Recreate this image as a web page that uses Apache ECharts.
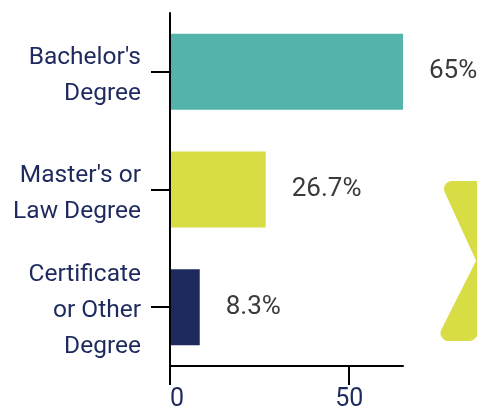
<!DOCTYPE html>
<html>
<head>
<meta charset="utf-8">
<style>
html, body { margin: 0; padding: 0; background: #fff; }
#chart { width: 477px; height: 410px; }
</style>
<script src="https://cdn.jsdelivr.net/npm/echarts@6/dist/echarts.min.js"></script>
</head>
<body>
<div id="chart"></div>
<script>
const categories = ["Bachelor's\nDegree", "Master's or\nLaw Degree", "Certificate\nor Other\nDegree"]
const values = [65, 26.7, 8.3]
const barColors = ['#54B3AB', '#D8DC45', '#1E2A5E']
const valueTicks = [0, 50]

const myChart = echarts.init(document.getElementById('chart'))
const option = {
    animation: false,
    backgroundColor: '#FFFFFF',
    grid: { left: 170, right: 74, top: 13, bottom: 44, outerBoundsMode: 'none' },
    xAxis: {
        type: 'value',
        min: 0,
        max: 65,
        interval: 50,
        z: 5,
        splitLine: { show: false },
        axisLine: { show: true, lineStyle: { color: '#000', width: 2 } },
        axisTick: { show: true, length: 19, lineStyle: { color: '#000', width: 2 } },
        axisLabel: {
            color: '#1E2A5E',
            fontFamily: 'Roboto',
            fontSize: 25,
            margin: 21,
            showMaxLabel: false,
            alignMinLabel: 'left',
            formatter: v => valueTicks.includes(v) ? String(v) : ''
        }
    },
    yAxis: {
        type: 'category',
        inverse: true,
        data: categories,
        z: 5,
        axisLine: { show: true, lineStyle: { color: '#000', width: 2 } },
        axisTick: { show: true, alignWithLabel: true, length: 19, lineStyle: { color: '#000', width: 2 } },
        axisLabel: {
            margin: 29,
            align: 'right',
            // small empty first line pushes the block down a bit
            formatter: v => '{pad| }\n' + v.split('\n').map(s => '{line|' + s + '}').join('\n'),
            rich: {
                pad: { fontSize: 1, lineHeight: 8 },
                line: { color: '#1E2A5E', fontFamily: 'Roboto', fontSize: 24.5, lineHeight: 36, align: 'right' }
            }
        }
    },
    series: [{
        type: 'bar',
        barWidth: 76,
        data: values.map((v, i) => ({ value: v, itemStyle: { color: barColors[i] } })),
        label: {
            show: true,
            position: 'right',
            distance: 26,
            color: '#3A3A3A',
            fontFamily: 'Roboto',
            fontSize: 26,
            formatter: p => p.value + '%'
        }
    }],
    // decorative shape on the right edge, rounded with a thick round-joined stroke
    graphic: [{
        type: 'polygon',
        shape: {
            points: [[452, 189], [485, 261], [448.5, 333], [469, 333], [500, 300], [500, 189]]
        },
        style: { fill: '#D8DC45', stroke: '#D8DC45', lineWidth: 16, lineJoin: 'round' }
    }]
}
myChart.setOption(option)
</script>
</body>
</html>
